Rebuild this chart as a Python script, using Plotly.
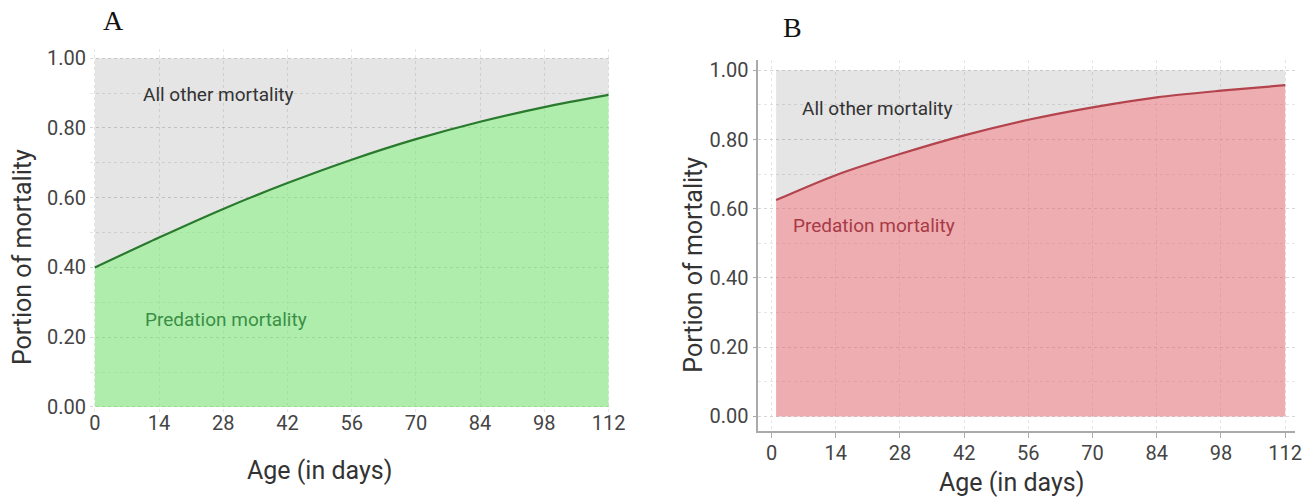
import plotly.graph_objects as go

# ---- data ----
days_a = [0, 14, 28, 42, 56, 70, 84, 98, 112]
predation_a = [0.400, 0.486, 0.568, 0.642, 0.709, 0.768, 0.818, 0.860, 0.895]

days_b = [1, 14, 28, 42, 56, 70, 84, 98, 112]
predation_b = [0.625, 0.697, 0.758, 0.812, 0.857, 0.893, 0.922, 0.941, 0.957]

total_a = [1.0] * len(days_a)
total_b = [1.0] * len(days_b)

x_ticks = [0, 14, 28, 42, 56, 70, 84, 98, 112]
y_ticks = [0.0, 0.2, 0.4, 0.6, 0.8, 1.0]
y_tick_text = ["0.00", "0.20", "0.40", "0.60", "0.80", "1.00"]

GREEN_FILL = "rgba(110,222,105,0.55)"
GREEN_LINE = "#2a7a2e"
GREEN_TEXT = "#3a8f45"
PINK_FILL = "rgba(222,92,98,0.50)"
RED_LINE = "#b3434c"
RED_TEXT = "#a83a47"
GRAY_FILL = "rgba(0,0,0,0.10)"
GRID = "rgba(190,190,190,0.38)"
FONT = "Roboto"

fig = go.Figure()

def add_panel(xs, pred, top, xa, ya, fill, line):
    fig.add_trace(go.Scatter(x=xs, y=pred, mode="lines", line=dict(width=0, shape="spline", smoothing=0.8),
                             fill="tozeroy", fillcolor=fill, xaxis=xa, yaxis=ya,
                             hoverinfo="skip", showlegend=False))
    fig.add_trace(go.Scatter(x=xs, y=top, mode="lines", line=dict(width=0),
                             fill="tonexty", fillcolor=GRAY_FILL, xaxis=xa, yaxis=ya,
                             hoverinfo="skip", showlegend=False))
    fig.add_trace(go.Scatter(x=xs, y=pred, mode="lines",
                             line=dict(width=2.2, color=line, shape="spline", smoothing=0.8),
                             xaxis=xa, yaxis=ya, hoverinfo="skip", showlegend=False))

add_panel(days_a, predation_a, total_a, "x", "y", GREEN_FILL, GREEN_LINE)
add_panel(days_b, predation_b, total_b, "x2", "y2", PINK_FILL, RED_LINE)

W, H = 1315, 504

def px(rx):
    return rx / W

def py(ry):
    return 1 - ry / H

def dom_x(a, b):
    return [px(a), min(px(b), 1.0)]

def dom_y(top, bottom):
    return [py(bottom), py(top)]

tickfont = dict(family=FONT, size=20, color="#444444")
grid_common = dict(showgrid=True, gridcolor=GRID, griddash="dot", gridwidth=1, zeroline=False)

fig.update_layout(
    width=W, height=H,
    margin=dict(l=0, r=0, t=0, b=0),
    paper_bgcolor="white", plot_bgcolor="white",
    xaxis=dict(domain=dom_x(90, 617), range=[-1.077, 112.43], tickvals=x_ticks,
               tickfont=tickfont, ticks="", showline=False, ticklabelstandoff=-4,
               anchor="y", **grid_common),
    yaxis=dict(domain=dom_y(47, 417), range=[-0.016, 1.026], tickvals=y_ticks,
               ticktext=y_tick_text, tickfont=tickfont, ticks="", showline=False,
               ticklabelstandoff=3,
               minor=dict(dtick=0.1, showgrid=True, gridcolor=GRID, griddash="dot"),
               anchor="x", **grid_common),
    xaxis2=dict(domain=dom_x(766.7, 1310), range=[-2.865, 114.15], tickvals=x_ticks,
                tickfont=tickfont, ticks="outside", ticklen=5, tickcolor="#aaaaaa",
                showline=True, linecolor="#aaaaaa", linewidth=1.5, ticklabelstandoff=-2,
                anchor="y2", **grid_common),
    yaxis2=dict(domain=dom_y(58, 436), range=[-0.0426, 1.0298], tickvals=y_ticks,
                ticktext=y_tick_text, tickfont=tickfont, ticks="outside", ticklen=4,
                tickcolor="#aaaaaa", showline=True, linecolor="#aaaaaa", linewidth=1.5,
                minor=dict(dtick=0.1, showgrid=True, gridcolor=GRID, griddash="dot"),
                anchor="x2", **grid_common),
)

ann_font = dict(family=FONT, size=19, color="#333333")
title_font = dict(family=FONT, size=25, color="#333333")
panel_font = dict(family="Liberation Serif", size=28, color="#111111")

def ann(x, y, text, font, xref="paper", yref="paper", angle=0):
    return dict(x=x, y=y, xref=xref, yref=yref, text=text, showarrow=False, font=font,
                textangle=angle, xanchor="center", yanchor="middle")

annotations = [
    # in-plot labels
    ann(26.9, 0.8966, "All other mortality", ann_font, "x", "y"),
    ann(28.5, 0.2515, "Predation mortality", dict(family=FONT, size=19, color=GREEN_TEXT), "x", "y"),
    ann(23.0, 0.8908, "All other mortality", ann_font, "x2", "y2"),
    ann(22.4, 0.5504, "Predation mortality", dict(family=FONT, size=19, color=RED_TEXT), "x2", "y2"),
    # axis titles
    ann(px(22), py(259), "Portion of mortality", title_font, angle=-90),
    ann(px(322), py(476), "Age (in days)", title_font),
    ann(px(701), py(266), "Portion of mortality", title_font, angle=-90),
    ann(px(1023), py(488), "Age (in days)", title_font),
    # panel letters
    ann(px(114), py(18), "A", panel_font),
    ann(px(801), py(25), "B", panel_font),
]
fig.update_layout(annotations=annotations)

fig.write_html("out.html", config={"displayModeBar": False},
               post_script="document.body.style.margin='0';")
